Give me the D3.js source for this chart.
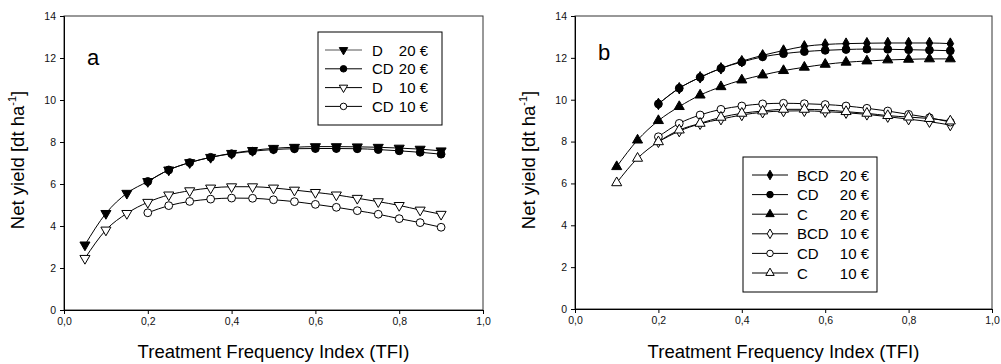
<!DOCTYPE html>
<html><head><meta charset="utf-8">
<script src="https://cdn.jsdelivr.net/npm/d3@7"></script>
<style>body{margin:0;background:#fff}svg{display:block}text{font-family:"Liberation Sans",Arial,sans-serif}</style>
</head><body><svg id="c" width="1001" height="364"></svg>
<script>
// ---- data ----
const tfiA1 = [0.05,0.1,0.15,0.2,0.25,0.3,0.35,0.4,0.45,0.5,0.55,0.6,0.65,0.7,0.75,0.8,0.85,0.9];
const tfiA2 = [0.2,0.25,0.3,0.35,0.4,0.45,0.5,0.55,0.6,0.65,0.7,0.75,0.8,0.85,0.9];
const tfiB1 = [0.1,0.15,0.2,0.25,0.3,0.35,0.4,0.45,0.5,0.55,0.6,0.65,0.7,0.75,0.8,0.85,0.9];
const tfiB2 = [0.2,0.25,0.3,0.35,0.4,0.45,0.5,0.55,0.6,0.65,0.7,0.75,0.8,0.85,0.9];

const a_D20  = [3.1,4.6,5.56,6.12,6.67,7.02,7.27,7.46,7.6,7.7,7.75,7.78,7.78,7.77,7.75,7.71,7.66,7.58];
const a_CD20 = [6.12,6.67,7.02,7.27,7.44,7.56,7.64,7.68,7.69,7.69,7.68,7.64,7.58,7.51,7.42];
const a_D10  = [2.46,3.81,4.6,5.13,5.48,5.68,5.81,5.87,5.87,5.81,5.71,5.6,5.48,5.32,5.16,4.98,4.76,4.56];
const a_CD10 = [4.63,4.97,5.17,5.28,5.33,5.32,5.25,5.16,5.03,4.89,4.73,4.56,4.35,4.16,3.94];

const b_BCD20 = [9.8,10.55,11.07,11.5,11.84,12.12,12.35,12.55,12.64,12.68,12.7,12.71,12.71,12.71,12.68];
const b_CD20  = [9.8,10.55,11.07,11.5,11.8,12.05,12.2,12.3,12.36,12.4,12.42,12.41,12.39,12.37,12.34];
const b_C20   = [6.8,8.07,9.0,9.67,10.22,10.62,10.94,11.18,11.39,11.55,11.69,11.79,11.85,11.9,11.93,11.95,11.95];
const b_BCD10 = [7.99,8.5,8.85,9.07,9.27,9.4,9.46,9.47,9.43,9.38,9.3,9.19,9.07,8.95,8.79];
const b_CD10  = [8.23,8.87,9.27,9.54,9.7,9.8,9.83,9.81,9.77,9.7,9.59,9.46,9.3,9.14,8.93];
const b_C10   = [6.03,7.2,7.99,8.55,8.87,9.16,9.35,9.46,9.54,9.54,9.51,9.43,9.35,9.24,9.17,9.1,8.98];

const xTicks = [0,0.2,0.4,0.6,0.8,1.0];
const yTicks = [0,2,4,6,8,10,12,14];
const labelsA = [["D","20 €"],["CD","20 €"],["D","10 €"],["CD","10 €"]];
const labelsB = [["BCD","20 €"],["CD","20 €"],["C","20 €"],["BCD","10 €"],["CD","10 €"],["C","10 €"]];

// ---- drawing ----
const svg = d3.select("#c");
const fmt = d => d3.format(".1f")(d).replace(".", ",");

function sym(type){
  return {
    tdown:{t:d3.symbolTriangle,size:44,rot:180},
    tup:{t:d3.symbolTriangle,size:44,rot:0},
    circle:{t:d3.symbolCircle,size:48,rot:0},
    diamond:{t:d3.symbolDiamond,size:38,rot:0}
  }[type];
}

function panel(cfg){
  const x = d3.scaleLinear().domain([0,1]).range([cfg.x0,cfg.x1]);
  const y = d3.scaleLinear().domain([0,14]).range([cfg.y1,cfg.y0]);
  const g = svg.append("g");
  g.append("rect").attr("x",cfg.x0).attr("y",cfg.y0).attr("width",cfg.x1-cfg.x0).attr("height",cfg.y1-cfg.y0)
    .attr("fill","none").attr("stroke","#333").attr("stroke-width",1);
  const ax = g.append("g").attr("transform",`translate(0,${cfg.y1})`)
    .call(d3.axisBottom(x).tickValues(xTicks).tickFormat(fmt).tickSizeOuter(0).tickSize(4).tickPadding(4));
  const ay = g.append("g").attr("transform",`translate(${cfg.x0},0)`)
    .call(d3.axisLeft(y).tickValues(yTicks).tickSizeOuter(0).tickSize(4).tickPadding(4));
  [ax,ay].forEach(a=>{
    a.select(".domain").attr("stroke","#000");
    a.selectAll("line").attr("stroke","#000");
    a.selectAll("text").attr("font-size",10.5).attr("fill","#111").attr("font-family","Liberation Sans, Arial, sans-serif");
  });
  g.append("text").attr("x",(cfg.x0+cfg.x1)/2).attr("y",358).attr("text-anchor","middle")
    .attr("font-size",18.5).text("Treatment Frequency Index (TFI)");
  const yt = g.append("text").attr("transform",`translate(${cfg.x0-40},160) rotate(-90)`)
    .attr("text-anchor","middle").attr("font-size",18.5);
  yt.append("tspan").text("Net yield [dt ha");
  yt.append("tspan").attr("font-size",11).attr("dy",-8).text("-1");
  yt.append("tspan").attr("dy",8).text("]");
  g.append("text").attr("x",cfg.letterX).attr("y",cfg.letterY).attr("font-size",22).text(cfg.letter);

  const line = d3.line().x(d=>x(d[0])).y(d=>y(d[1])).curve(d3.curveMonotoneX);
  cfg.series.forEach(s=>{
    const pts = s.xs.map((v,i)=>[v,s.ys[i]]);
    g.append("path").datum(pts).attr("d",line).attr("fill","none").attr("stroke","#000").attr("stroke-width",1);
  });
  cfg.series.forEach(s=>{
    const pts = s.xs.map((v,i)=>[v,s.ys[i]]);
    const sy = sym(s.shape);
    g.selectAll(null).data(pts).enter().append("path")
      .attr("d",d3.symbol().type(sy.t).size(sy.size))
      .attr("transform",d=>`translate(${x(d[0])},${y(d[1])}) rotate(${sy.rot})`)
      .attr("fill",s.filled?"#000":"#fff").attr("stroke","#000").attr("stroke-width",1);
  });
  const L = cfg.legend;
  g.append("rect").attr("x",L.x0).attr("y",L.y0).attr("width",L.x1-L.x0).attr("height",L.y1-L.y0)
    .attr("fill","#fff").attr("stroke","#000").attr("stroke-width",1);
  cfg.series.forEach((s,i)=>{
    const yy = L.rowY + i*L.dy;
    g.append("line").attr("x1",L.lx0).attr("x2",L.lx1).attr("y1",yy).attr("y2",yy)
      .attr("stroke",i===0&&cfg.letter==="a"?"#555":"#000").attr("stroke-width",1);
    const sy = sym(s.shape);
    g.append("path").attr("d",d3.symbol().type(sy.t).size(sy.size*0.7))
      .attr("transform",`translate(${(L.lx0+L.lx1)/2},${yy}) rotate(${sy.rot})`)
      .attr("fill",s.filled?"#000":"#fff").attr("stroke","#000").attr("stroke-width",1);
    g.append("text").attr("x",L.tx).attr("y",yy+5.5).attr("font-size",15).text(cfg.labels[i][0]);
    g.append("text").attr("x",L.tx2).attr("y",yy+5.5).attr("font-size",15).attr("text-anchor","end").text(cfg.labels[i][1]);
  });
}

panel({x0:64,x1:483,y0:16,y1:310,letter:"a",letterX:87,letterY:65,labels:labelsA,
  legend:{x0:318,x1:442,y0:32,y1:125,rowY:50,dy:18.8,lx0:325,lx1:362,tx:372,tx2:428},
  series:[
    {xs:tfiA1,ys:a_D20,shape:"tdown",filled:true},
    {xs:tfiA2,ys:a_CD20,shape:"circle",filled:true},
    {xs:tfiA1,ys:a_D10,shape:"tdown",filled:false},
    {xs:tfiA2,ys:a_CD10,shape:"circle",filled:false}
  ]});
panel({x0:575,x1:992,y0:16,y1:309,letter:"b",letterX:598,letterY:60,labels:labelsB,
  legend:{x0:743,x1:877,y0:157,y1:292,rowY:175,dy:19.6,lx0:752,lx1:788,tx:797,tx2:869},
  series:[
    {xs:tfiB2,ys:b_BCD20,shape:"diamond",filled:true},
    {xs:tfiB2,ys:b_CD20,shape:"circle",filled:true},
    {xs:tfiB1,ys:b_C20,shape:"tup",filled:true},
    {xs:tfiB2,ys:b_BCD10,shape:"diamond",filled:false},
    {xs:tfiB2,ys:b_CD10,shape:"circle",filled:false},
    {xs:tfiB1,ys:b_C10,shape:"tup",filled:false}
  ]});
</script></body></html>
